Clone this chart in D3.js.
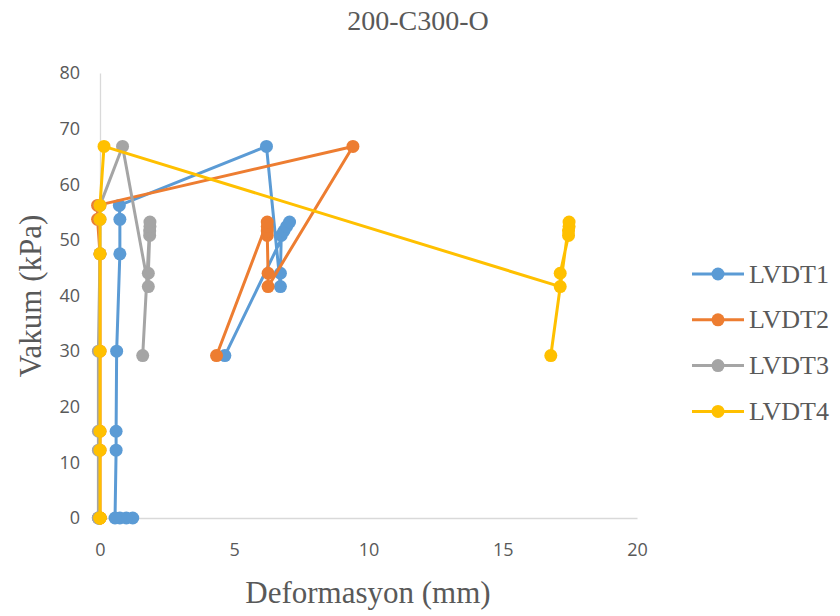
<!DOCTYPE html>
<html lang="tr">
<head>
<meta charset="UTF-8">
<title>200-C300-O</title>
<script src="https://cdn.jsdelivr.net/npm/d3@7"></script>
<style>
  * { margin: 0; padding: 0; }
  body { background: #fff; }
</style>
</head>
<body>
<svg id="chart" width="840" height="616"></svg>
<script>
// vakum (kPa) for each reading, shared by all four gauges
var vakum = [0, 0, 0, 0, 12.2, 15.6, 30, 47.5, 53.7, 56.2, 66.8, 41.6, 44, 50.8, 51.6, 52.4, 53.2, 29.2];
// deformasyon (mm) per gauge
var lvdt1 = [1.22, 0.98, 0.74, 0.56, 0.6, 0.6, 0.62, 0.74, 0.74, 0.72, 6.2, 6.72, 6.72, 6.75, 6.85, 6.95, 7.06, 4.65];
var lvdt2 = [0, 0, 0, 0, 0, 0, 0, 0, -0.09, -0.09, 9.42, 6.26, 6.26, 6.23, 6.23, 6.23, 6.23, 4.34];
var lvdt3 = [-0.06, -0.06, -0.06, -0.06, -0.06, -0.06, -0.06, 0, 0, 0, 0.84, 1.8, 1.8, 1.85, 1.85, 1.86, 1.86, 1.59];
var lvdt4 = [0, 0, 0, 0, 0, 0, 0, 0, 0, 0, 0.15, 17.14, 17.14, 17.45, 17.45, 17.47, 17.47, 16.79];
var seriesNames = ["LVDT1", "LVDT2", "LVDT3", "LVDT4"];
var colors = ["#5b9bd5", "#ed7d31", "#a5a5a5", "#ffc000"];
var xTicks = [0, 5, 10, 15, 20];
var yTicks = [0, 10, 20, 30, 40, 50, 60, 70, 80];

var svg = d3.select("#chart");
var plotLeft = 100, plotRight = 637, plotTop = 73, plotBottom = 518;

var x = d3.scaleLinear().domain([0, 20]).range([plotLeft, plotRight]);
var y = d3.scaleLinear().domain([0, 80]).range([plotBottom, plotTop]);

// axes
var xAxis = svg.append("g")
  .attr("transform", "translate(0," + plotBottom + ")")
  .call(d3.axisBottom(x).tickValues(xTicks).tickSize(0).tickPadding(25).tickFormat(d3.format("d")));
var yAxis = svg.append("g")
  .attr("transform", "translate(" + plotLeft + ",0)")
  .call(d3.axisLeft(y).tickValues(yTicks).tickSize(0).tickPadding(20).tickFormat(d3.format("d")));
[xAxis, yAxis].forEach(function (g) {
  g.select(".domain").attr("stroke", "#d9d9d9").attr("stroke-width", 1.3);
  g.selectAll("text")
    .attr("fill", "#595959")
    .style("font-family", "'Open Sans', sans-serif")
    .style("font-size", "18px");
});

// series
var allSeries = [lvdt1, lvdt2, lvdt3, lvdt4].map(function (xs, i) {
  return {
    name: seriesNames[i],
    color: colors[i],
    points: xs.map(function (v, j) { return [v, vakum[j]]; })
  };
});

var line = d3.line()
  .x(function (d) { return x(d[0]); })
  .y(function (d) { return y(d[1]); });

var plot = svg.append("g");
allSeries.forEach(function (s) {
  var g = plot.append("g");
  g.append("path")
    .datum(s.points)
    .attr("fill", "none")
    .attr("stroke", s.color)
    .attr("stroke-width", 3)
    .attr("stroke-linejoin", "round")
    .attr("d", line);
  g.selectAll("circle")
    .data(s.points)
    .enter()
    .append("circle")
    .attr("cx", function (d) { return x(d[0]); })
    .attr("cy", function (d) { return y(d[1]); })
    .attr("r", 6.5)
    .attr("fill", s.color);
});

// titles
var serif = "'Liberation Serif', 'Times New Roman', serif";
svg.append("text")
  .attr("x", 418).attr("y", 30)
  .attr("text-anchor", "middle")
  .attr("fill", "#595959")
  .style("font-family", serif).style("font-size", "28px")
  .text("200-C300-O");
svg.append("text")
  .attr("x", 368).attr("y", 603)
  .attr("text-anchor", "middle")
  .attr("fill", "#595959")
  .style("font-family", serif).style("font-size", "31px")
  .text("Deformasyon (mm)");
svg.append("text")
  .attr("transform", "translate(41,296) rotate(-90)")
  .attr("text-anchor", "middle")
  .attr("fill", "#595959")
  .style("font-family", serif).style("font-size", "31px")
  .text("Vakum (kPa)");

// legend
var legend = svg.append("g").attr("transform", "translate(692,274)");
var items = legend.selectAll("g")
  .data(allSeries)
  .enter()
  .append("g")
  .attr("transform", function (d, i) { return "translate(0," + (i * 45.8) + ")"; });
items.append("line")
  .attr("x1", 0).attr("x2", 52)
  .attr("stroke", function (d) { return d.color; })
  .attr("stroke-width", 3);
items.append("circle")
  .attr("cx", 26).attr("r", 6.5)
  .attr("fill", function (d) { return d.color; });
items.append("text")
  .attr("x", 57).attr("y", 8.5)
  .attr("fill", "#595959")
  .style("font-family", serif).style("font-size", "26px")
  .text(function (d) { return d.name; });
</script>
</body>
</html>
